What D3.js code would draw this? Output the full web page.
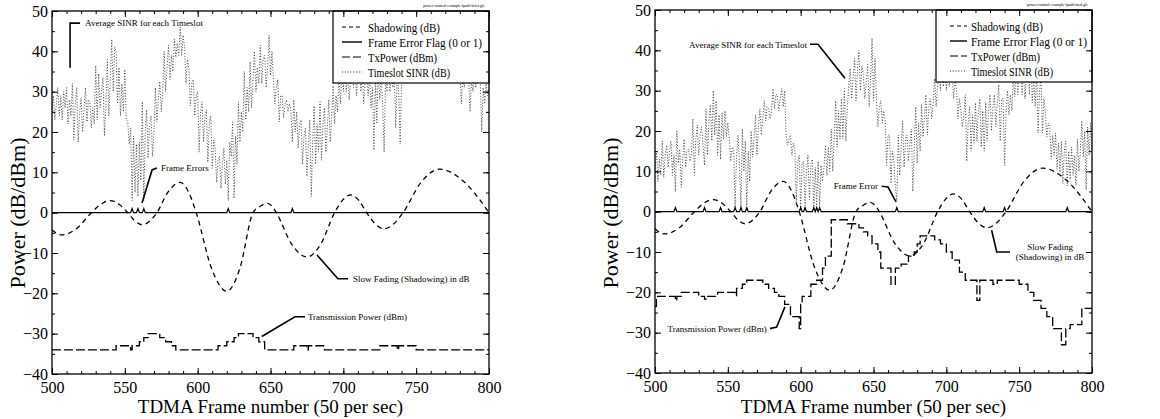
<!DOCTYPE html>
<html><head><meta charset="utf-8">
<script src="https://cdn.jsdelivr.net/npm/d3@7"></script>
<style>body{margin:0;background:#fff}svg{display:block}text{font-family:"Liberation Serif","Times New Roman",serif;fill:#000}</style>
</head><body><svg id="c" width="1160" height="419"></svg>
<script>
const frameTicks=[500,550,600,650,700,750,800];
const valueTicks=[-40,-30,-20,-10,0,10,20,30,40,50];
const legendLabels=["Shadowing (dB)","Frame Error Flag (0 or 1)","TxPower (dBm)","Timeslot SINR (dB)"];
const xTitle="TDMA Frame number (50 per sec)";
const yTitle="Power (dB/dBm)";

const shadowFrames=[500,503.5,507,517,527,533.5,540,546,552,557,562,567,572,580,588,593.5,599,609.5,620,629,638,643,648,651,654,664.5,675,684.5,694,699.5,705,710.5,716,722,728,734.5,741,753.5,766,783,800];
const shadowValues=[-4.2,-5.2,-5.5,-3.9,0,2.1,3,2.1,0,-2.1,-3,-2.1,0,5.3,7.5,5.3,0,-13.8,-19.5,-13.8,0,1.6,2.3,1.6,0,-7.8,-11,-7.8,0,3.1,4.4,3.1,0,-2.8,-4,-2.8,0,7.6,10.8,7.6,0];

const txLeftFrames=[500,544,554,555,560,563,566,574,578,582,585,614,620,625,628,638,642,646,666,675,676,687,725,737,738,750,800];
const txLeftValues=[-34,-33,-34,-33,-32,-31,-30,-31,-32,-33,-34,-33,-32,-31,-30,-31,-32,-34,-33,-34,-33,-34,-33,-34,-33,-34,-34];

const txRightFrames=[500,501,514,515,518,530,534,535,543,555,556,560,563,574,578,582,585,589,593,599,600,601,607,611,615,617,621,632,640,643,646,649,653,655,662,665,669,674,678,680,682,692,696,700,704,709,713,721,723,732,735,750,756,760,765,769,773,779,782,785,793,800];
const txRightValues=[-23.5,-21,-22,-21,-20,-21,-21.7,-21,-20,-20.8,-19,-18,-17,-18,-19,-20,-21,-23,-26,-29,-23,-21,-18,-17,-14,-11,-2,-3,-4,-5,-6,-8,-10,-14,-18,-14,-13,-11,-10,-8,-6,-7,-8,-10,-12,-15,-17,-22,-17,-18,-17,-18,-20,-22,-24,-26,-29,-33,-29,-28,-24,-24];

const errLeftFrames=[555,559,563,621,665];
const errRightFrames=[514,534,545,555,559,563,600,603,609,611,613,666,726,740,783];

// Timeslot SINR, one value per frame from 500 to 800
const sinrLeft=[
25,29,23,27,31,24,29,23,30,26,
31,22,28,24,32,18,27,31,17.5,25,
28.5,20,26,31,22.5,28,27.5,21,26,22,
36.5,23,34.5,26,30,33.5,19,27,38,24,
33,43,30,41,40,27,36,24,32,25,
35.5,23,22.5,17,21,3,19,5,17,4,
17.5,8,27.5,3,20,25.5,13.5,22,24,14,
20,31,22.5,28,32.5,25,30,40,30,36,
41.5,33,39,35,43,38.5,42,39,46,39,
44,41,32,38,35.5,26.5,32,33,24,29,
30,15,25,27.5,17.5,24,25.5,12.5,22,24,
11,18,16,7.5,13,14,6,12,16,7,
13,3,17.5,14,22.5,3.5,19,12,27.5,17.5,
25,20,35,23,31,25,37.5,26,33,40,
30,36,32,41.5,32,38,39,31,36,44,
34,40,33,27,31,33,22.5,29,29,23.5,
27,28,25,27,25.5,17.5,28,20,25,16,
22,23,12,19,21,9,17,23,4,18,
26.5,12,22,15,27.5,13,22,26,15,21,
28,17.5,24,31.5,22,29,25,34,27,36,
30,38,30,35,28,33,36,31,40,29,
34,38,30,35,27,33,37,29,34,26,
31,15.5,33,22,36,28,34,27,15,33,
30,38,30,35,31,34,21,34,30,17,
33,33,36,34,38,33,40,35,42,36,
39,37,34,41,35,38,40,36,43,35,
39,38,34,40,36,37,41,35,38,34,
39,36,33,38,34,37,35,33,37,34,
36,27,34,31,35,32,34,25,33,30,
34,31,35,32,33,20,31,27,32,29,
31];
const sinrRight=[
10,15,7.5,13,9,17.5,8.5,14,16.5,11,
15,17.5,9,14,5,20,12,15.5,6,13,
18,11,15,15.5,12.5,14,23,9,18,21.5,
14,19,21,16,11.5,25.5,14,22,26.5,17.5,
30,19,27.5,14,24,13,24.5,18,25,18.5,
22,18,12.5,16,15.5,1,14,19,12,1,
20.5,10,17.5,1.5,15,7.5,20,13.5,18,24,
14,21,25.5,19,23,27.5,22.5,26,25.5,23,
25,30.5,25.5,29,29,25,28,30.5,26,30,
19,16.5,18,19,14,17,15.5,2.5,12,14,
1,12,12.5,1.5,10,14,3,12,13,0.8,
11,1.5,12.5,1.5,11.5,7.5,11,16.5,9,16,
10,20.5,10,18,27.5,16,25,18,28,18,
30.5,17.5,26,31,35.5,28,33,38,27.5,35,
40,30,36,34,28,32,36.5,26,33,43,
27.5,38,28,21,26,27.5,22,25,22.5,11.5,
19,19,7,15,12.5,6,2.5,19,9,16,
22.5,11,18,19,12.5,17,20.5,5,16,26,
12,22,15,26.5,18.5,24,29,19,26,28,
23,27,33,26,31,36,30,38,31,40,
30,36,31,38,34,28,33,30,23,28,
25,21,24,29,12.5,22,26,15,24,17,
27,17.5,25,28,16,25,15,27,17.5,25,
29,20,26,29,21,27,31.5,17.5,28,28,
11.5,25,30,24,29,25,34,28.5,36,29,
33,38,29,35,28,34,37,29,40,27,
33,26,35,19.5,30,33,19.5,28,24.5,18.5,
22,21,13,19,14,19.5,10.5,17,9.8,17.5,
7,15,17.5,6.4,15,8,16,9,14,6.5,
18,10,15,22.5,13.5,20,5.4,21,14,22,
15];

const panels=[
 {x0:52,x1:489,yTop:11,yBot:374,sinr:sinrLeft,txF:txLeftFrames,txV:txLeftValues,err:errLeftFrames,
  legend:{x:333,w:156,h:72,s0:342,s1:362,tx:368,tw:[72,114,69,82]},yTitleX:25,header:"power-control-example-fpath-brief.gle",
  notes:[
   {lines:["Average SINR for each Timeslot"],anchor:"start",f:522.7,v:46.2,path:[[519.2,47],[512.4,47],[512.4,35.9]]},
   {lines:["Frame Errors"],anchor:"start",f:574.8,v:10.3,path:[[572,11.1],[568.7,10.6],[561.8,2.4]]},
   {lines:["Slow Fading (Shadowing) in dB"],anchor:"start",f:706.6,v:-17.2,path:[[703.2,-16.4],[696.3,-16.4],[681.9,-10.5]]},
   {lines:["Transmission Power (dBm)"],anchor:"start",f:675.7,v:-26.6,path:[[673.7,-25.8],[666.8,-25.8],[644,-30.7]]}
  ]},
 {x0:655,x1:1092,yTop:10,yBot:373,sinr:sinrRight,txF:txRightFrames,txV:txRightValues,err:errRightFrames,
  legend:{x:936,w:156,h:72,s0:950,s1:967,tx:971,tw:[72,116,69,82]},yTitleX:618,header:"power-control-example-fpath-med.gle",
  notes:[
   {lines:["Average SINR for each Timeslot"],anchor:"end",f:604.3,v:40.7,path:[[606.4,41.5],[611.9,41.5],[630.4,33.1]]},
   {lines:["Frame Error"],anchor:"end",f:653.1,v:5.5,path:[[655.6,6.3],[660,6.1],[665.4,2.4]]},
   {lines:["Slow Fading","(Shadowing) in dB"],anchor:"middle",f:771.2,v:-9.5,path:[[743.7,-10],[734.6,-10],[731.1,-4.6]]},
   {lines:["Transmission Power (dBm)"],anchor:"end",f:576.7,v:-29.8,path:[[578.9,-29],[583.5,-28.6],[589.2,-23.6]]}
  ]}
];

const svg=d3.select("#c");
svg.append("rect").attr("width",1160).attr("height",419).attr("fill","#fff");

panels.forEach(p=>{
  const x=d3.scaleLinear().domain([500,800]).range([p.x0,p.x1]);
  const y=d3.scaleLinear().domain([-40,50]).range([p.yBot,p.yTop]);
  const g=svg.append("g");
  const clip="clip"+p.x0;
  svg.append("clipPath").attr("id",clip).append("rect").attr("x",p.x0).attr("y",p.yTop).attr("width",p.x1-p.x0).attr("height",p.yBot-p.yTop);
  const plot=g.append("g").attr("clip-path",`url(#${clip})`);

  // SINR
  const sinrLine=d3.line().x((d,i)=>x(500+i)).y(d=>y(d));
  plot.append("path").attr("d",sinrLine(p.sinr)).attr("fill","none").attr("stroke","#333").attr("stroke-width",0.9).attr("stroke-dasharray","1,1.8");

  // Shadowing
  const shadowLine=d3.line().x((d,i)=>x(shadowFrames[i])).y(d=>y(d)).curve(d3.curveMonotoneX);
  plot.append("path").attr("d",shadowLine(shadowValues)).attr("fill","none").attr("stroke","#000").attr("stroke-width",1.3).attr("stroke-dasharray","5,4");

  // TxPower
  const txLine=d3.line().x((d,i)=>x(p.txF[i])).y(d=>y(d)).curve(d3.curveStepAfter);
  plot.append("path").attr("d",txLine(p.txV)).attr("fill","none").attr("stroke","#000").attr("stroke-width",1.3).attr("stroke-dasharray","9,3");

  // Frame error flag
  const errSet=new Set(p.err);
  const flags=d3.range(500,801).map(f=>errSet.has(f)?1:0);
  const errLine=d3.line().x((d,i)=>x(500+i)).y(d=>y(d));
  plot.append("path").attr("d",errLine(flags)).attr("fill","none").attr("stroke","#000").attr("stroke-width",1.2);

  // Legend
  const L=p.legend;
  const lg=g.append("g");
  lg.append("rect").attr("x",L.x).attr("y",p.yTop).attr("width",L.w).attr("height",L.h).attr("fill","#fff").attr("stroke","#000").attr("stroke-width",1.2);
  const dashes=["4,3",null,"8,3","1,1.8"];
  const widths=[1.2,1.4,1.2,0.9];
  legendLabels.forEach((t,i)=>{
    const cy=p.yTop+16+i*15;
    lg.append("line").attr("x1",L.s0).attr("x2",L.s1).attr("y1",cy).attr("y2",cy).attr("stroke","#000").attr("stroke-width",widths[i]).attr("stroke-dasharray",dashes[i]);
    lg.append("text").attr("x",L.tx).attr("y",cy+4.5).attr("font-size",13)
      .attr("textLength",L.tw[i]).attr("lengthAdjust","spacingAndGlyphs").text(t);
  });

  // Annotations
  p.notes.forEach(n=>{
    g.append("path").attr("d",d3.line().x(d=>x(d[0])).y(d=>y(d[1]))(n.path)).attr("fill","none").attr("stroke","#000").attr("stroke-width",1.6);
    const t=g.append("text").attr("text-anchor",n.anchor).attr("font-size",9);
    n.lines.forEach((s,k)=>t.append("tspan").attr("x",x(n.f)).attr("y",y(n.v)+k*10).text(s));
  });

  // Axes
  g.append("rect").attr("x",p.x0).attr("y",p.yTop).attr("width",p.x1-p.x0).attr("height",p.yBot-p.yTop).attr("fill","none").attr("stroke","#000").attr("stroke-width",1.3);
  const minorF=d3.range(500,801,10), minorV=d3.range(-40,51,5);
  g.append("g").attr("transform",`translate(0,${p.yBot})`).call(d3.axisBottom(x).tickValues(frameTicks).tickSizeInner(-6).tickSizeOuter(0).tickPadding(8).tickFormat(d3.format("d")));
  g.append("g").attr("transform",`translate(0,${p.yBot})`).call(d3.axisBottom(x).tickValues(minorF).tickSize(-3).tickFormat(""));
  g.append("g").attr("transform",`translate(0,${p.yTop})`).call(d3.axisTop(x).tickValues(frameTicks).tickSize(-6).tickFormat(""));
  g.append("g").attr("transform",`translate(0,${p.yTop})`).call(d3.axisTop(x).tickValues(minorF).tickSize(-3).tickFormat(""));
  g.append("g").attr("transform",`translate(${p.x0},0)`).call(d3.axisLeft(y).tickValues(valueTicks).tickSizeInner(-6).tickSizeOuter(0).tickPadding(4).tickFormat(d3.format("d")));
  g.append("g").attr("transform",`translate(${p.x0},0)`).call(d3.axisLeft(y).tickValues(minorV).tickSize(-3).tickFormat(""));
  g.append("g").attr("transform",`translate(${p.x1},0)`).call(d3.axisRight(y).tickValues(valueTicks).tickSize(-6).tickFormat(""));
  g.append("g").attr("transform",`translate(${p.x1},0)`).call(d3.axisRight(y).tickValues(minorV).tickSize(-3).tickFormat(""));
  g.selectAll(".domain").attr("stroke","none");
  g.selectAll(".tick line").attr("stroke","#000").attr("stroke-width",1);
  g.selectAll(".tick text").attr("font-family","Liberation Serif, serif").attr("font-size",16).attr("fill","#000");

  // Titles
  g.append("text").attr("x",(p.x0+p.x1)/2).attr("y",413).attr("text-anchor","middle").attr("font-size",19).text(xTitle);
  g.append("text").attr("transform",`translate(${p.yTitleX},213) rotate(-90)`).attr("text-anchor","middle").attr("font-size",22).text(yTitle);
  g.append("text").attr("x",p.x1-4).attr("y",p.yTop-4).attr("text-anchor","end").attr("font-size",4).text(p.header);
});
</script></body></html>
